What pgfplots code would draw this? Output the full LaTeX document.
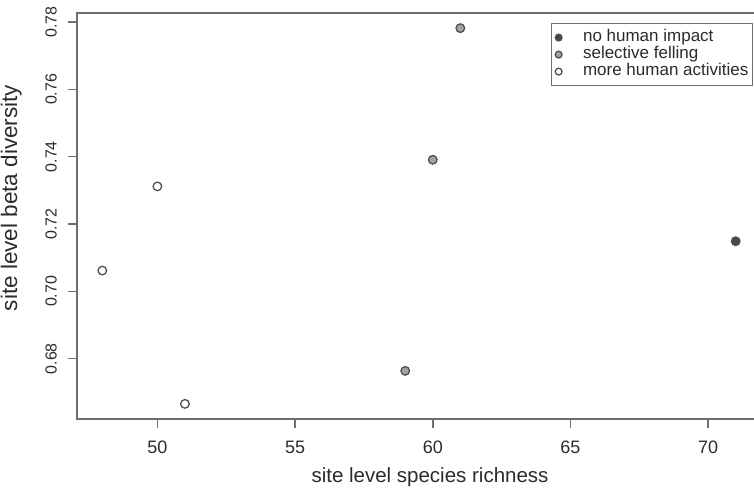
\documentclass[border=0pt]{standalone}
\usepackage{pgfplots}
\pgfplotsset{compat=1.18}
\usepackage{fontspec}
\setmainfont{Liberation Sans}
\definecolor{axisgray}{HTML}{6E6E6E}
\definecolor{textgray}{HTML}{2B2B2B}
\definecolor{ptdraw}{HTML}{505050}
\definecolor{darkfill}{HTML}{474747}
\definecolor{midfill}{HTML}{A3A3A3}
\begin{document}
\begin{tikzpicture}[x=1bp,y=1bp]
\begin{axis}[
  scale only axis, width=684bp, height=406bp,
  xmin=47.08, xmax=71.92, ymin=0.6621, ymax=0.7827,
  axis line style={draw=axisgray, line width=1.5bp},
  tick style={draw=axisgray, line width=1.5bp},
  tick align=outside, major tick length=9bp,
  xtick={50,55,60,65,70}, ytick={0.68,0.70,0.72,0.74,0.76,0.78},
  xtick pos=lower, ytick pos=left,
  scaled y ticks=false,
  /pgf/number format/assume math mode=true,
  xticklabel style={font=\fontsize{18bp}{20bp}\selectfont, text=textgray, anchor=north, inner sep=0pt},
  xticklabel shift=12.5bp,
  yticklabel style={font=\fontsize{16bp}{18bp}\selectfont, text=textgray, rotate=90, anchor=south, inner sep=0pt,
    /pgf/number format/fixed, /pgf/number format/fixed zerofill, /pgf/number format/precision=2},
  yticklabel shift=11bp,
  xlabel={site level species richness},
  ylabel={site level beta diversity},
  xlabel style={font=\fontsize{20.5bp}{22bp}\selectfont, text=textgray, at={(axis description cs:0.5161,-0.1564)}, anchor=base, inner sep=0pt},
  ylabel style={font=\fontsize{22.5bp}{24bp}\selectfont, text=textgray, at={(axis description cs:-0.0877,0.5443)}, anchor=base, inner sep=0pt},
  legend image code/.code={\draw[#1, mark size=3.4bp, line width=1.2bp] plot coordinates {(0bp,0bp)};},
  legend cell align=left,
  legend style={at={(0.9883,0.9754)}, anchor=north east, draw=axisgray, line width=1.2bp, fill=white,
    inner xsep=4bp, inner ysep=5.5bp, row sep=0bp, column sep=0bp,
    font=\fontsize{17bp}{18bp}\selectfont, text=textgray,
    nodes={inner xsep=0bp, inner ysep=0bp, text height=12bp, text depth=5bp}},
]
\addplot[only marks, mark=*, mark size=4.3bp, mark options={fill=darkfill, draw=ptdraw, line width=1.3bp}]
  coordinates {(71,0.7149)};
\addlegendentry{\hspace{21bp}no human impact}
\addplot[only marks, mark=*, mark size=4.3bp, mark options={fill=midfill, draw=ptdraw, line width=1.3bp}]
  coordinates {(59,0.6764) (60,0.7391) (61,0.7782)};
\addlegendentry{\hspace{21bp}selective felling}
\addplot[only marks, mark=*, mark size=4.3bp, mark options={fill=white, draw=ptdraw, line width=1.3bp}]
  coordinates {(48,0.7062) (50,0.7312) (51,0.6666)};
\addlegendentry{\hspace{21bp}more human activities}
\end{axis}
\pgfresetboundingbox
\path[use as bounding box] (-77,-69) rectangle (677,419);
\end{tikzpicture}
\end{document}
